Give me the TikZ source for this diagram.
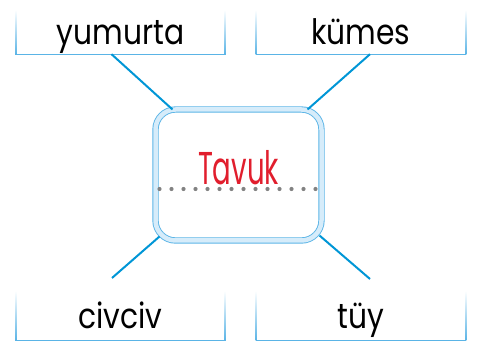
\documentclass[tikz,border=0pt]{standalone}
\usepackage{fontspec}
\newfontfamily\labelfont[FakeStretch=0.85]{Poppins}
\newfontfamily\wordfont[FakeStretch=0.6]{Poppins}
\usetikzlibrary{positioning}
\definecolor{lineblue}{RGB}{0,150,214}
\definecolor{edgeblue}{RGB}{90,180,230}
\definecolor{bandblue}{RGB}{214,236,250}
\definecolor{wordred}{RGB}{225,30,45}
\definecolor{dotgray}{RGB}{130,130,130}
\tikzset{
  labelbox/.style={minimum width=209pt,minimum height=44pt,inner sep=0pt,
    text height=30pt,text depth=4pt,font=\labelfont\fontsize{35}{35}\selectfont},
  hub/.style={draw=edgeblue,double=bandblue,double distance=4.5pt,line width=0.9pt,
    rounded corners=20pt,fill=white,minimum width=166pt,minimum height=131pt,
    inner sep=0pt,outer sep=0pt,text height=33pt,text depth=14pt,text=wordred,
    font=\wordfont\fontsize{46}{46}\selectfont},
  link/.style={draw=lineblue,line width=2pt},
  edge line/.style={draw=edgeblue,line width=1.2pt},
  dots/.style={draw=dotgray,line width=4.2pt,line cap=round,dash pattern=on 0pt off 12pt}
}
\begin{document}
\begin{tikzpicture}[x=1pt,y=-1pt]
  \useasboundingbox (0,0) rectangle (479,344);

  % word boxes
  \node[labelbox] (yum) at (120.5,32) {yumurta};
  \node[labelbox] (kum) at (361,32) {kümes};
  \node[labelbox,minimum height=49pt] (civ) at (120.5,315.5) {civciv};
  \node[labelbox,minimum height=49pt] (tuy) at (361,315.5) {tüy};
  \foreach \n in {yum,kum,civ,tuy} {
    \shade[top color=white,bottom color=edgeblue] ([xshift=-0.6pt]\n.north west) rectangle ([xshift=0.6pt]\n.south west);
    \shade[top color=white,bottom color=edgeblue] ([xshift=-0.6pt]\n.north east) rectangle ([xshift=0.6pt]\n.south east);
    \draw[edge line] (\n.south west) -- (\n.south east);
  }

  % centre
  \node[hub] (tav) at (238.5,175) {Tavuk};
  \draw[dots] ([xshift=4pt,yshift=-14pt]tav.west) -- ([xshift=-4pt,yshift=-14pt]tav.east);
  \coordinate (cl) at (112,278);
  \coordinate (cr) at (370,279);
  \draw[link] ([xshift=-9pt]yum.south) -- ([xshift=17pt]tav.north west);
  \draw[link] ([xshift=9pt]kum.south) -- ([xshift=-14pt]tav.north east);
  \draw[link] ([xshift=4pt,yshift=4pt]tav.south west) -- (cl);
  \draw[link] ([xshift=-2pt,yshift=5pt]tav.south east) -- (cr);
\end{tikzpicture}
\end{document}
